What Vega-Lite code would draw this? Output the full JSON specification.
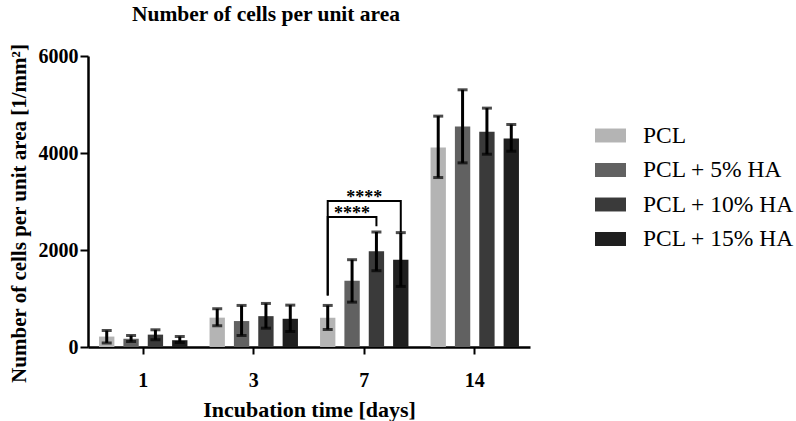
{
  "$schema": "https://vega.github.io/schema/vega-lite/v6.json",
  "width": 442,
  "height": 291,
  "autosize": "none",
  "padding": {"left": 88, "top": 56, "right": 266, "bottom": 74},
  "background": "white",
  "config": {
    "font": "Liberation Serif",
    "view": {"stroke": null},
    "axis": {"grid": false, "domainColor": "black", "domainWidth": 2.5, "tickColor": "black", "tickWidth": 2, "labelColor": "black", "titleColor": "black", "labelFont": "Liberation Serif", "titleFont": "Liberation Serif", "labelFontWeight": "bold", "titleFontWeight": "bold"},
    "legend": {"labelFont": "Liberation Serif", "titleFont": "Liberation Serif"},
    "text": {"font": "Liberation Serif"}
  },
  "title": {"text": "Number of cells per unit area", "font": "Liberation Serif", "fontSize": 21.5, "fontWeight": "bold", "color": "black", "anchor": "middle", "dx": -43, "offset": 18},
  "datasets": {
    "bars": [
      {"day": "1", "group": "PCL", "mean": 215, "lo": 85, "hi": 340},
      {"day": "1", "group": "PCL + 5% HA", "mean": 170, "lo": 113, "hi": 237},
      {"day": "1", "group": "PCL + 10% HA", "mean": 255, "lo": 150, "hi": 355},
      {"day": "1", "group": "PCL + 15% HA", "mean": 140, "lo": 93, "hi": 217},
      {"day": "3", "group": "PCL", "mean": 605, "lo": 438, "hi": 789},
      {"day": "3", "group": "PCL + 5% HA", "mean": 535, "lo": 237, "hi": 857},
      {"day": "3", "group": "PCL + 10% HA", "mean": 636, "lo": 388, "hi": 898},
      {"day": "3", "group": "PCL + 15% HA", "mean": 582, "lo": 320, "hi": 863},
      {"day": "7", "group": "PCL", "mean": 603, "lo": 361, "hi": 857},
      {"day": "7", "group": "PCL + 5% HA", "mean": 1367, "lo": 925, "hi": 1800},
      {"day": "7", "group": "PCL + 10% HA", "mean": 1972, "lo": 1573, "hi": 2371},
      {"day": "7", "group": "PCL + 15% HA", "mean": 1800, "lo": 1249, "hi": 2358},
      {"day": "14", "group": "PCL", "mean": 4113, "lo": 3494, "hi": 4760},
      {"day": "14", "group": "PCL + 5% HA", "mean": 4547, "lo": 3797, "hi": 5303},
      {"day": "14", "group": "PCL + 10% HA", "mean": 4436, "lo": 3975, "hi": 4925},
      {"day": "14", "group": "PCL + 15% HA", "mean": 4299, "lo": 4037, "hi": 4588}
    ],
    "brackets": [
      {"bracket": "a", "day": "7", "group": "PCL", "v": 1063, "seq": 1},
      {"bracket": "a", "day": "7", "group": "PCL", "v": 3011, "seq": 2},
      {"bracket": "a", "day": "7", "group": "PCL + 15% HA", "v": 3011, "seq": 3},
      {"bracket": "a", "day": "7", "group": "PCL + 15% HA", "v": 2364, "seq": 4},
      {"bracket": "b", "day": "7", "group": "PCL", "v": 1063, "seq": 1},
      {"bracket": "b", "day": "7", "group": "PCL", "v": 2680, "seq": 2},
      {"bracket": "b", "day": "7", "group": "PCL + 10% HA", "v": 2680, "seq": 3},
      {"bracket": "b", "day": "7", "group": "PCL + 10% HA", "v": 2488, "seq": 4}
    ]
  },
  "encoding": {
    "x": {"field": "day", "type": "nominal", "sort": ["1", "3", "7", "14"], "scale": {"paddingInner": 0.2, "paddingOuter": 0.1},
      "axis": {"title": "Incubation time [days]", "labelAngle": 0, "labelFontSize": 20, "titleFontSize": 22, "tickSize": 7, "labelPadding": 16, "titlePadding": 9}}
  },
  "layer": [
    {
      "data": {"name": "bars"},
      "mark": {"type": "bar"},
      "encoding": {
        "xOffset": {"field": "group", "type": "nominal", "sort": ["PCL", "PCL + 5% HA", "PCL + 10% HA", "PCL + 15% HA"], "scale": {"paddingInner": 0.37, "paddingOuter": 0}},
        "y": {"field": "mean", "type": "quantitative", "scale": {"domain": [0, 6000]},
          "axis": {"title": "Number of cells per unit area [1/mm²]", "values": [0, 2000, 4000, 6000], "format": "d", "labelFontSize": 20, "titleFontSize": 21, "tickSize": 8, "labelPadding": 2, "titlePadding": 9, "titleY": 157}},
        "color": {"field": "group", "type": "nominal", "sort": ["PCL", "PCL + 5% HA", "PCL + 10% HA", "PCL + 15% HA"],
          "scale": {"range": ["#b4b4b4", "#616161", "#3a3a3a", "#1f1f1f"]},
          "legend": {"title": null, "orient": "none", "legendX": 507, "legendY": 64, "labelFont": "Liberation Serif", "labelFontSize": 23.5, "labelColor": "black", "symbolType": "M-1,-0.45H1V0.45H-1Z", "symbolSize": 961, "symbolStrokeWidth": 0, "symbolOpacity": 1, "labelOffset": 17, "rowPadding": 7.5}}
      }
    },
    {
      "data": {"name": "bars"},
      "mark": {"type": "rule", "color": "black", "strokeWidth": 3},
      "encoding": {"xOffset": {"field": "group", "type": "nominal", "sort": ["PCL", "PCL + 5% HA", "PCL + 10% HA", "PCL + 15% HA"]}, "y": {"field": "lo", "type": "quantitative"}, "y2": {"field": "hi"}}
    },
    {
      "data": {"name": "bars"},
      "mark": {"type": "tick", "color": "black", "thickness": 3, "size": 10, "orient": "horizontal"},
      "encoding": {"xOffset": {"field": "group", "type": "nominal", "sort": ["PCL", "PCL + 5% HA", "PCL + 10% HA", "PCL + 15% HA"]}, "y": {"field": "lo", "type": "quantitative"}}
    },
    {
      "data": {"name": "bars"},
      "mark": {"type": "tick", "color": "black", "thickness": 3, "size": 10, "orient": "horizontal"},
      "encoding": {"xOffset": {"field": "group", "type": "nominal", "sort": ["PCL", "PCL + 5% HA", "PCL + 10% HA", "PCL + 15% HA"]}, "y": {"field": "hi", "type": "quantitative"}}
    },
    {
      "data": {"name": "brackets"},
      "mark": {"type": "line", "color": "black", "strokeWidth": 2, "interpolate": "linear"},
      "encoding": {"xOffset": {"field": "group", "type": "nominal", "sort": ["PCL", "PCL + 5% HA", "PCL + 10% HA", "PCL + 15% HA"]}, "y": {"field": "v", "type": "quantitative"}, "detail": {"field": "bracket"}, "order": {"field": "seq"}}
    },
    {
      "data": {"values": [{"day": "7", "v": 3011, "label": "****"}]},
      "mark": {"type": "text", "font": "Liberation Serif", "fontWeight": "bold", "fontSize": 18, "baseline": "alphabetic", "dy": 2, "color": "black"},
      "encoding": {"y": {"field": "v", "type": "quantitative"}, "text": {"field": "label"}}
    },
    {
      "data": {"values": [{"day": "7", "group": "PCL + 5% HA", "v": 2680, "label": "****"}]},
      "mark": {"type": "text", "font": "Liberation Serif", "fontWeight": "bold", "fontSize": 18, "baseline": "alphabetic", "dy": 2, "color": "black"},
      "encoding": {"xOffset": {"field": "group", "type": "nominal", "sort": ["PCL", "PCL + 5% HA", "PCL + 10% HA", "PCL + 15% HA"]}, "y": {"field": "v", "type": "quantitative"}, "text": {"field": "label"}}
    }
  ]
}
